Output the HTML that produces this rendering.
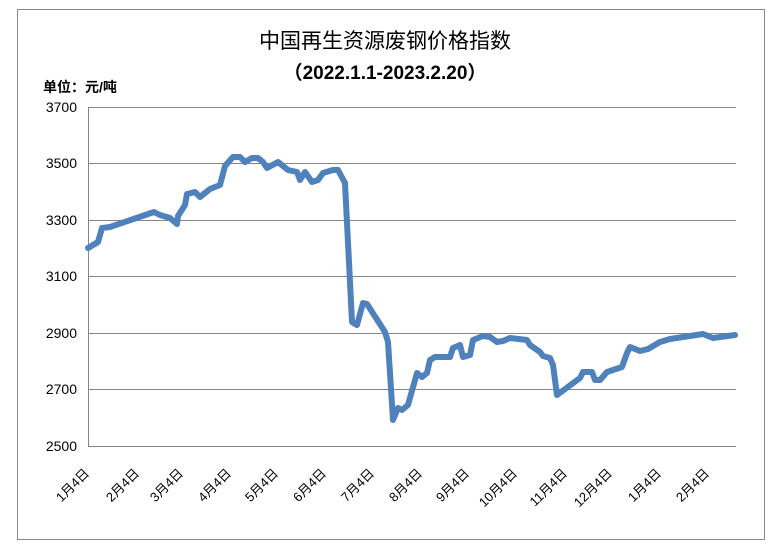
<!DOCTYPE html>
<html><head><meta charset="utf-8"><style>
html,body{margin:0;padding:0;background:#fff;}
svg{display:block;}
</style></head><body>
<svg width="782" height="553" viewBox="0 0 782 553" xmlns="http://www.w3.org/2000/svg">
<rect x="17.5" y="9.5" width="747" height="530" fill="#fff" stroke="#888" stroke-width="1"/>
<text x="385" y="48" text-anchor="middle" font-family="'Liberation Sans','Noto Sans CJK SC',sans-serif" font-size="21" fill="#000">中国再生资源废钢价格指数</text>
<text x="385" y="79" text-anchor="middle" font-family="'Liberation Sans','Noto Sans CJK SC',sans-serif" font-size="19" font-weight="bold" fill="#000">（2022.1.1-2023.2.20）</text>
<text x="43" y="92" font-family="'Liberation Sans','Noto Sans CJK SC',sans-serif" font-size="14" font-weight="bold" fill="#000">单位：元/吨</text>
<g stroke="#868686" stroke-width="1">
<line x1="88" y1="107.5" x2="736" y2="107.5"/>
<line x1="88" y1="163.5" x2="736" y2="163.5"/>
<line x1="88" y1="220.5" x2="736" y2="220.5"/>
<line x1="88" y1="276.5" x2="736" y2="276.5"/>
<line x1="88" y1="333.5" x2="736" y2="333.5"/>
<line x1="88" y1="389.5" x2="736" y2="389.5"/>
<line x1="88" y1="446.5" x2="736" y2="446.5"/>
<line x1="88.5" y1="107" x2="88.5" y2="446"/>
</g>
<g font-family="'Liberation Sans',sans-serif" font-size="14" fill="#000" text-anchor="end">
<text x="77" y="112">3700</text>
<text x="77" y="168">3500</text>
<text x="77" y="225">3300</text>
<text x="77" y="281">3100</text>
<text x="77" y="338">2900</text>
<text x="77" y="394">2700</text>
<text x="77" y="451">2500</text>
</g>
<polyline fill="none" stroke="#4f81bd" stroke-width="6" stroke-linejoin="round" stroke-linecap="round" points="88,248 98,242 102,228 110,227 154,212 160,215 170,218 177,224 178,216 185,205 187,194 195,192 200,197 210,189 220,185 225,166 233,157 240,157 245,162 252,158 258,158 263,162 267,168 278,162 288,170 297,172 300,180 305,172 312,182 318,180 323,173 333,170 338,170 345,183 352,322 357,325 363,303 367,304 385,332 388,342 393,420 398,408 402,410 408,405 417,373 422,377 427,373 430,360 435,357 450,357 453,348 460,345 463,357 470,355 473,340 483,336 490,337 497,342 503,341 510,338 527,340 530,345 540,352 543,356 550,358 553,365 557,395 580,378 583,372 592,372 595,380 600,380 607,372 622,367 627,353 630,347 640,351 648,349 660,342 670,339 703,334 713,338 735,335"/>
<g font-family="'Liberation Sans','Noto Sans CJK SC',sans-serif" font-size="13" fill="#000" text-anchor="end">
<text transform="translate(90,474) rotate(-45)">1月4日</text>
<text transform="translate(140,474) rotate(-45)">2月4日</text>
<text transform="translate(184,474) rotate(-45)">3月4日</text>
<text transform="translate(232,474) rotate(-45)">4月4日</text>
<text transform="translate(279,474) rotate(-45)">5月4日</text>
<text transform="translate(327,474) rotate(-45)">6月4日</text>
<text transform="translate(375,474) rotate(-45)">7月4日</text>
<text transform="translate(423,474) rotate(-45)">8月4日</text>
<text transform="translate(470,474) rotate(-45)">9月4日</text>
<text transform="translate(518,474) rotate(-45)">10月4日</text>
<text transform="translate(568,474) rotate(-45)">11月4日</text>
<text transform="translate(613,474) rotate(-45)">12月4日</text>
<text transform="translate(662,474) rotate(-45)">1月4日</text>
<text transform="translate(710,474) rotate(-45)">2月4日</text>
</g>
</svg>
</body></html>
